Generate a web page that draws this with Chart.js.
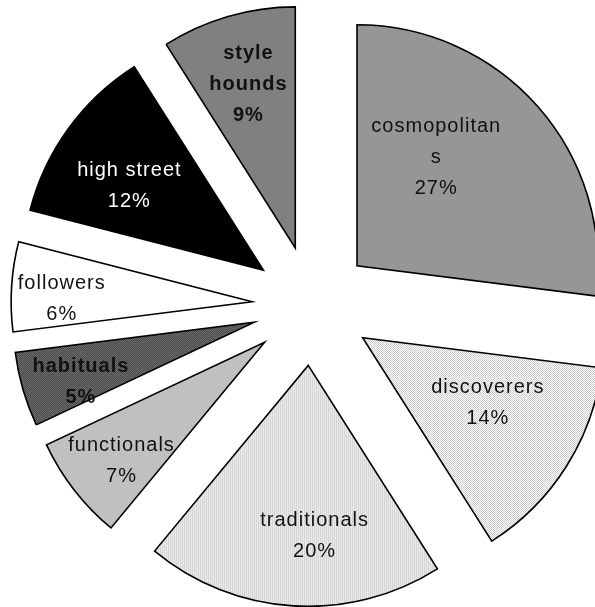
<!DOCTYPE html>
<html>
<head>
<meta charset="utf-8">
<script src="https://cdn.jsdelivr.net/npm/chart.js@4.4.1/dist/chart.umd.min.js"></script>
<style>
  html, body { margin: 0; padding: 0; background: #fff; overflow: hidden; }
  canvas { display: block; }
</style>
</head>
<body>
<canvas id="chart" width="595" height="607"></canvas>
<script>
// Shopper segments and their share (%)
const categories = ['cosmopolitans', 'discoverers', 'traditionals', 'functionals',
                    'habituals', 'followers', 'high street', 'style hounds'];
const shares = [27, 14, 20, 7, 5, 6, 12, 9];

// How each label is broken into lines inside its slice
const labelLines = {
  'cosmopolitans': ['cosmopolitan', 's'],
  'style hounds': ['style', 'hounds']
};

const canvas = document.getElementById('chart');
const ctx = canvas.getContext('2d');

// Small tiled fills for the textured slices
function tile(w, h, paint) {
  const c = document.createElement('canvas');
  c.width = w; c.height = h;
  paint(c.getContext('2d'));
  return ctx.createPattern(c, 'repeat');
}
function checker(a, b) {
  return tile(2, 2, g => {
    g.fillStyle = a; g.fillRect(0, 0, 2, 2);
    g.fillStyle = b; g.fillRect(0, 0, 1, 1); g.fillRect(1, 1, 1, 1);
  });
}
function stripes(a, b) {
  return tile(2, 1, g => {
    g.fillStyle = a; g.fillRect(0, 0, 1, 1);
    g.fillStyle = b; g.fillRect(1, 0, 1, 1);
  });
}

const fills = [
  checker('#929292', '#9a9a9a'),   // cosmopolitans
  checker('#ffffff', '#cbcbcb'),   // discoverers
  stripes('#d6d6d6', '#e9e9e9'),   // traditionals
  '#c0c0c0',                       // functionals
  checker('#4c4c4c', '#6a6a6a'),   // habituals
  '#ffffff',                       // followers
  '#000000',                       // high street
  '#808080'                        // style hounds
];

// Label styling per slice
const labelStyle = [
  { color: '#111', bold: false, t: 0.37, r: 0.56 },
  { color: '#111', bold: false, t: 0.40, r: 0.585 },
  { color: '#111', bold: false, t: 0.42, r: 0.705 },
  { color: '#111', bold: false, t: 0.43, r: 0.77 },
  { color: '#111', bold: true,  t: 0.36, r: 0.76 },
  { color: '#111', bold: false, t: 0.39, r: 0.79 },
  { color: '#fff', bold: false, t: 0.42, r: 0.66 },
  { color: '#111', bold: true,  t: 0.51, r: 0.71 }
];

// Pulls every slice out from the centre by the same distance
const explodePlugin = {
  id: 'explode',
  afterDatasetUpdate(chart, args, opts) {
    args.meta.data.forEach(arc => {
      const mid = (arc.startAngle + arc.endAngle) / 2;
      arc.x += Math.cos(mid) * opts.distance;
      arc.y += Math.sin(mid) * opts.distance;
    });
  }
};

// Category name and percentage written inside each slice
const sliceLabels = {
  id: 'sliceLabels',
  afterDatasetsDraw(chart) {
    const meta = chart.getDatasetMeta(0);
    const c = chart.ctx;
    c.save();
    c.textAlign = 'center';
    c.textBaseline = 'middle';
    meta.data.forEach((arc, i) => {
      const st = labelStyle[i];
      const a = arc.startAngle + (arc.endAngle - arc.startAngle) * st.t;
      const rr = arc.outerRadius * st.r;
      const x = arc.x + Math.cos(a) * rr;
      const y = arc.y + Math.sin(a) * rr;
      const name = categories[i];
      const lines = (labelLines[name] || [name]).concat([shares[i] + '%']);
      const lh = 31;
      c.fillStyle = st.color;
      c.font = (st.bold ? 'bold ' : '') + '20px "Liberation Sans", Arial, sans-serif';
      c.letterSpacing = '1px';
      lines.forEach((ln, k) => {
        c.fillText(ln, x, y + 1 + (k - (lines.length - 1) / 2) * lh);
      });
    });
    c.restore();
  }
};

new Chart(ctx, {
  type: 'pie',
  data: {
    labels: categories,
    datasets: [{
      data: shares,
      backgroundColor: fills,
      borderColor: '#000',
      borderWidth: 1.6,
      borderJoinStyle: 'miter'
    }]
  },
  options: {
    responsive: false,
    animation: false,
    radius: 241,
    layout: { padding: { left: 29, top: 4, right: 0, bottom: 0 } },
    plugins: {
      legend: { display: false },
      tooltip: { enabled: false },
      explode: { distance: 60 }
    }
  },
  plugins: [explodePlugin, sliceLabels]
});
</script>
</body>
</html>
